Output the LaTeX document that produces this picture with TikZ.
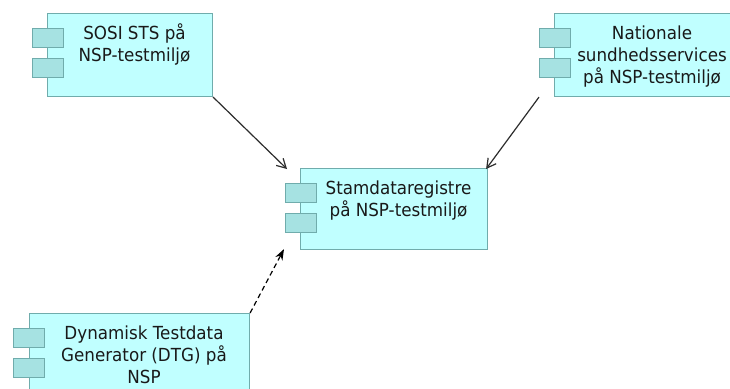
\documentclass[tikz,border=0pt]{standalone}
\usepackage{fontspec}
\usetikzlibrary{arrows.meta}
\newfontfamily\lblfont[FakeStretch=0.93]{DejaVu Sans}
\definecolor{compfill}{RGB}{192,255,255}
\definecolor{portfill}{RGB}{166,226,226}
\definecolor{compline}{RGB}{112,172,172}
\definecolor{arrowcol}{RGB}{45,45,45}
\begin{document}
\begin{tikzpicture}[x=1pt,y=-1pt,
  compbox/.style={draw=compline,fill=compfill,line width=1.1pt,inner sep=0pt,anchor=north west},
  portbox/.style={draw=compline,fill=portfill,line width=1.1pt,inner sep=0pt,anchor=north west,minimum width=31pt,minimum height=19pt},
  lbl/.style={inner sep=0pt,align=center,anchor=base,font=\lblfont\fontsize{18}{22}\selectfont,text=black!90},
  solidarrow/.style={draw=arrowcol,line width=1.2pt,-{Straight Barb[length=9pt,width=10pt,line width=1.2pt]}},
  dasharrow/.style={draw=black,line width=1.2pt,dash pattern=on 5pt off 3.5pt,-{Stealth[length=11pt,width=8pt]}}
]
\useasboundingbox (0,0) rectangle (730,388);
\fill[white] (0,0) rectangle (730,388);
\clip (0,0) rectangle (730,388);
% SOSI STS
\node[compbox,minimum width=165pt,minimum height=83pt] (sosi) at (47,13) {};
\node[portbox] (sosip1) at (32,28) {};
\node[portbox] (sosip2) at (32,58) {};
\node[lbl] (sosit) at (134.5,61) {SOSI STS på\\NSP-testmiljø};
% Nationale sundhedsservices
\node[compbox,minimum width=186pt,minimum height=83pt] (nat) at (554,13) {};
\node[portbox] (natp1) at (539,28) {};
\node[portbox] (natp2) at (539,58) {};
\node[lbl] (natt) at (652,83) {Nationale\\sundhedsservices\\på NSP-testmiljø};
% Stamdataregistre
\node[compbox,minimum width=187pt,minimum height=81pt] (stam) at (300,168) {};
\node[portbox] (stamp1) at (285,183) {};
\node[portbox] (stamp2) at (285,213) {};
\node[lbl] (stamt) at (398.5,216) {Stamdataregistre\\på NSP-testmiljø};
% DTG
\node[compbox,minimum width=220pt,minimum height=105pt] (dtg) at (29,313) {};
\node[portbox] (dtgp1) at (13,328) {};
\node[portbox] (dtgp2) at (13,358) {};
\node[lbl] (dtgt) at (144,383) {Dynamisk Testdata\\Generator (DTG) på\\NSP};
% connector end points
\coordinate (sosiend) at ([xshift=-13pt,yshift=-1pt]stam.north west);
\coordinate (natstart) at ([xshift=-15pt]nat.south west);
\coordinate (natend) at ([xshift=-2pt,yshift=-1pt]stam.north east);
\coordinate (dtgend) at ([xshift=-16pt,yshift=1pt]stam.south west);
\draw[solidarrow] (sosi.south east) -- (sosiend);
\draw[solidarrow] (natstart) -- (natend);
\draw[dasharrow] (dtg.north east) -- (dtgend);
\end{tikzpicture}
\end{document}
